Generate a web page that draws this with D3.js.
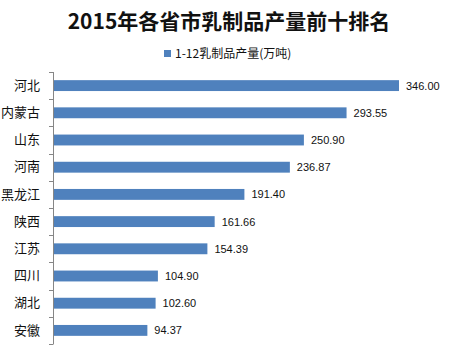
<!DOCTYPE html>
<html>
<head>
<meta charset="utf-8">
<script src="https://cdn.jsdelivr.net/npm/d3@7"></script>
<style>
  body { margin: 0; background: #fff; }
  svg { display: block; }
</style>
</head>
<body>
<div id="chart"></div>
<script>
// data
var provinces = ["河北", "内蒙古", "山东", "河南", "黑龙江", "陕西", "江苏", "四川", "湖北", "安徽"];
var output = [346.00, 293.55, 250.90, 236.87, 191.40, 161.66, 154.39, 104.90, 102.60, 94.37];
var titleText = "2015年各省市乳制品产量前十排名";
var seriesName = "1-12乳制品产量(万吨)";

var width = 465, height = 354;
var margin = {top: 72, right: 12, bottom: 10, left: 53};

var svg = d3.select("#chart")
  .append("svg")
    .attr("width", width)
    .attr("height", height);

// title
svg.append("text")
  .attr("x", 229)
  .attr("y", 29)
  .attr("text-anchor", "middle")
  .style("font", "bold 21px 'Noto Sans CJK SC', sans-serif")
  .style("fill", "#111")
  .text(titleText);

// legend
svg.append("rect")
  .attr("x", 164).attr("y", 50)
  .attr("width", 7).attr("height", 7)
  .attr("fill", "#4F81BD");
svg.append("text")
  .attr("x", 175).attr("y", 58)
  .style("font", "12px 'Noto Sans CJK SC', sans-serif")
  .style("fill", "#111")
  .text(seriesName);

// scales
var y = d3.scaleBand()
  .domain(provinces)
  .range([margin.top, height - margin.bottom])
  .paddingInner(0.6)
  .paddingOuter(0.3);

var x = d3.scaleLinear()
  .domain([0, 400])
  .range([margin.left, margin.left + 400]);

var step = y.step();
var top0 = y(provinces[0]) - step * 0.3;

// axis line + ticks at band boundaries
var g = svg.append("g");
g.append("line")
  .attr("x1", margin.left + 0.5).attr("x2", margin.left + 0.5)
  .attr("y1", top0).attr("y2", top0 + step * provinces.length)
  .attr("stroke", "#868686");
g.selectAll("line.tick")
  .data(d3.range(provinces.length + 1))
  .enter().append("line")
    .attr("class", "tick")
    .attr("x1", margin.left - 4).attr("x2", margin.left + 0.5)
    .attr("y1", function(i) { return Math.round(top0 + i * step) + 0.5; })
    .attr("y2", function(i) { return Math.round(top0 + i * step) + 0.5; })
    .attr("stroke", "#868686");

// category labels
svg.append("g")
  .attr("transform", "translate(" + margin.left + ",0)")
  .call(d3.axisLeft(y).tickSize(0).tickPadding(13))
  .call(function(a) { a.select(".domain").remove(); })
  .selectAll("text")
    .style("font", "13px 'Noto Sans CJK SC', sans-serif")
    .style("fill", "#111");

// bars
svg.append("g")
  .selectAll("rect")
  .data(provinces)
  .enter().append("rect")
    .attr("x", x(0) + 1)
    .attr("y", function(d) { return y(d); })
    .attr("width", function(d, i) { return x(output[i]) - x(0) - 1; })
    .attr("height", y.bandwidth())
    .attr("fill", "#4F81BD");

// value labels
svg.append("g")
  .selectAll("text")
  .data(provinces)
  .enter().append("text")
    .attr("x", function(d, i) { return x(output[i]) + 7; })
    .attr("y", function(d) { return y(d) + y.bandwidth() / 2; })
    .attr("dy", "0.36em")
    .style("font", "11px 'Liberation Sans', sans-serif")
    .style("fill", "#111")
    .text(function(d, i) { return output[i].toFixed(2); });
</script>
</body>
</html>
